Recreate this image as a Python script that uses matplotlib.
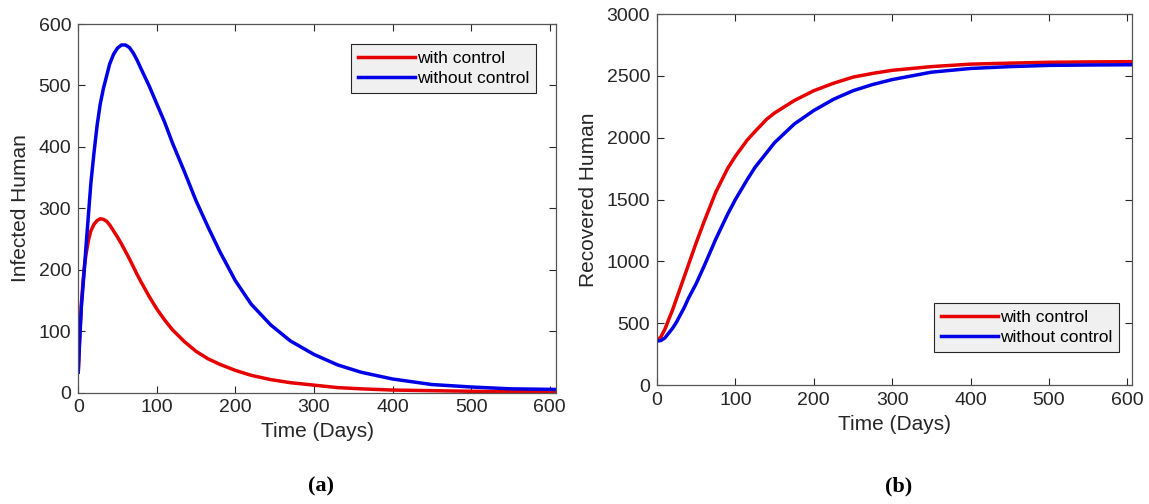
import matplotlib
matplotlib.use('Agg')
import matplotlib.pyplot as plt

plt.rcParams['font.family'] = ['Liberation Sans', 'DejaVu Sans']

# (a) infected humans
t_inf = [0, 2, 4, 6, 8, 10, 13, 16, 20, 24, 28, 32, 36, 40, 45, 50, 55, 60, 65, 70, 75, 80,
         90, 100, 110, 120, 135, 150, 165, 180, 200, 220, 245, 270, 300, 330, 360, 400,
         450, 500, 550, 608]
inf_ctrl = [33, 95, 145, 180, 207, 226, 248, 263, 274, 280, 283, 282, 279, 273, 263, 253, 242,
            230, 218, 205, 192, 180, 157, 136, 118, 102, 83, 67, 55, 46, 36, 28, 21, 16, 12,
            8, 6, 4, 3, 2, 1.5, 1]
inf_noctrl = [33, 90, 140, 172, 205, 240, 290, 340, 390, 435, 470, 495, 515, 535, 551, 561, 566,
              566, 562, 553, 541, 527, 500, 470, 440, 406, 360, 312, 270, 230, 182, 144, 110,
              84, 62, 45, 33, 22, 13, 9, 6, 5]

# (b) recovered humans
t_rec = [0, 5, 10, 15, 20, 25, 30, 35, 40, 50, 60, 75, 90, 100, 115, 125, 140, 150, 175, 200,
         225, 250, 275, 300, 350, 400, 450, 500, 550, 606]
rec_ctrl = [360, 390, 450, 530, 610, 700, 790, 880, 970, 1150, 1320, 1560, 1750, 1850, 1980,
            2050, 2150, 2200, 2300, 2380, 2440, 2490, 2520, 2545, 2575, 2595, 2603, 2610, 2613,
            2615]
rec_noctrl = [355, 360, 380, 420, 460, 510, 570, 630, 700, 820, 960, 1180, 1380, 1500, 1660,
              1760, 1880, 1960, 2110, 2220, 2310, 2380, 2430, 2470, 2530, 2560, 2575, 2585,
              2588, 2590]

series_labels = ['with control', 'without control']
red = '#e60000'
blue = '#0000e6'
ink = '#262626'

fig = plt.figure(figsize=(11.49, 5.04), dpi=100)
ax1 = fig.add_axes([0.0681, 0.2212, 0.4158, 0.731])
ax2 = fig.add_axes([0.5718, 0.2361, 0.4134, 0.736])

def style(ax, xmax, ymax, yticks, ylabel, legloc, anchor):
    ax.set_xlim(0, xmax)
    ax.set_ylim(0, ymax)
    ax.set_xticks([0, 100, 200, 300, 400, 500, 600])
    ax.set_yticks(yticks)
    ax.tick_params(direction='in', top=True, right=True, labelsize=14,
                   colors=ink, length=5, width=0.8, pad=5)
    for s in ax.spines.values():
        s.set_color('#555555')
        s.set_linewidth(0.9)
    ax.set_xlabel('Time (Days)', fontsize=15, color=ink, labelpad=4)
    ax.set_ylabel(ylabel, fontsize=15, color=ink, labelpad=6)
    leg = ax.legend(loc=legloc, bbox_to_anchor=anchor, fontsize=12.5, handlelength=3.3,
                    handletextpad=0.1, fancybox=False, framealpha=1, borderpad=0.4,
                    labelspacing=0.3, borderaxespad=0)
    leg.get_frame().set_facecolor('#f0f0f0')
    leg.get_frame().set_edgecolor(ink)
    leg.get_frame().set_linewidth(0.8)

ax1.plot(t_inf, inf_ctrl, color=red, lw=2.5, label=series_labels[0])
ax1.plot(t_inf, inf_noctrl, color=blue, lw=2.5, label=series_labels[1])
style(ax1, 608, 600, [0, 100, 200, 300, 400, 500, 600], 'Infected Human', 'upper right',
      (0.959, 0.946))

ax2.plot(t_rec, rec_ctrl, color=red, lw=2.5, label=series_labels[0])
ax2.plot(t_rec, rec_noctrl, color=blue, lw=2.5, label=series_labels[1])
style(ax2, 606, 3000, [0, 500, 1000, 1500, 2000, 2500, 3000], 'Recovered Human', 'lower right',
      (0.973, 0.089))

fig.text(0.279, 0.025, '(a)', fontsize=16, fontweight='bold', family='Liberation Serif',
         ha='center')
fig.text(0.782, 0.025, '(b)', fontsize=16, fontweight='bold', family='Liberation Serif',
         ha='center')

fig.savefig('out.png', dpi=100)
